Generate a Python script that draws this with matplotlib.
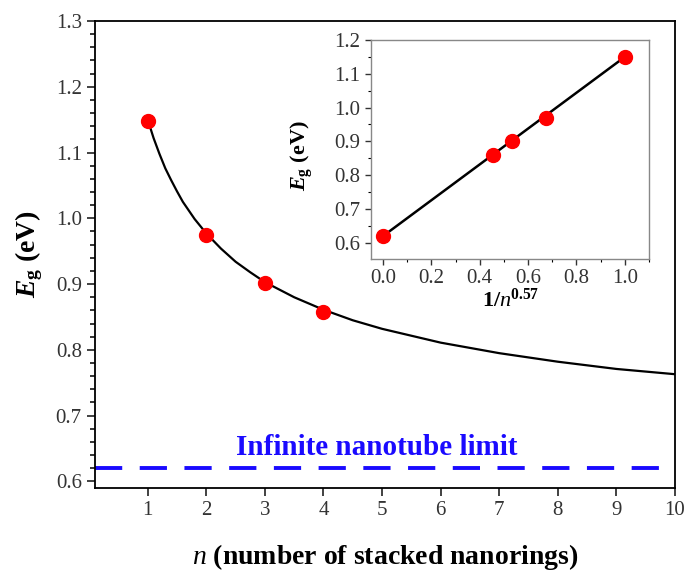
import matplotlib
matplotlib.use('Agg')
import matplotlib.pyplot as plt
from matplotlib.ticker import MultipleLocator

plt.rcParams['font.family'] = 'Liberation Serif'
plt.rcParams['mathtext.fontset'] = 'custom'
plt.rcParams['mathtext.rm'] = 'Liberation Serif:bold'
plt.rcParams['mathtext.it'] = 'Liberation Serif:italic:bold'
plt.rcParams['mathtext.bf'] = 'Liberation Serif:bold'
plt.rcParams['mathtext.sf'] = 'Liberation Serif:italic'

# band gap vs number of stacked nanorings
n_pts = [1, 2, 3, 4]
eg_pts = [1.148, 0.975, 0.901, 0.858]

# fitted curve
n_fit = [1, 1.1, 1.2, 1.3, 1.4, 1.5, 1.6, 1.8, 2, 2.25, 2.5, 2.75, 3, 3.5, 4,
         4.5, 5, 6, 7, 8, 9, 10]
eg_fit = [1.150, 1.122, 1.098, 1.076, 1.058, 1.041, 1.025, 0.999, 0.977, 0.954,
          0.934, 0.918, 0.903, 0.880, 0.861, 0.845, 0.832, 0.811, 0.795, 0.782,
          0.771, 0.763]

eg_inf = 0.62

# inset: Eg vs 1/n^0.57
inv_n = [0.0, 0.455, 0.533, 0.674, 1.0]
eg_inset = [0.62, 0.86, 0.90, 0.97, 1.15]
line_x = [0.0, 1.0]
line_y = [0.62, 1.15]

fig = plt.figure(figsize=(6.9, 5.71), dpi=100)
ax = fig.add_axes([95 / 690, 1 - 488 / 571, (675 - 95) / 690, (488 - 21) / 571])

ax.plot(n_fit, eg_fit, color='black', lw=1.6, zorder=2)
ax.plot(n_pts, eg_pts, 'o', color='red', ms=10, zorder=3)
ax.axhline(eg_inf, color='#1a0aff', lw=2.8, dashes=(7, 4.5))
ax.text(2.5, 0.652, 'Infinite nanotube limit', color='#1a0aff', fontsize=21,
        fontweight='bold', va='center')

ax.set_xlim(0.1, 10)
ax.set_ylim(0.59, 1.3)
ax.set_xticks(range(1, 11))
ax.yaxis.set_major_locator(MultipleLocator(0.1))
ax.yaxis.set_minor_locator(MultipleLocator(0.02))
ax.tick_params(axis='both', which='major', direction='out', length=6, width=1.3,
               labelsize=15, colors='#333333')
ax.tick_params(axis='y', which='minor', direction='out', length=3.5, width=1.1)
for s in ax.spines.values():
    s.set_linewidth(1.3)
ax.set_xlabel(r'$\mathsf{n}$ (number of stacked nanorings)', fontsize=20,
              fontweight='bold', labelpad=16)
ax.set_ylabel(r'$E_{\rm g}$ (eV)', fontsize=20, fontweight='bold', labelpad=8)

# inset
axi = fig.add_axes([371 / 690, 1 - 259 / 571, (649 - 371) / 690, (259 - 40) / 571])
axi.plot(line_x, line_y, color='black', lw=1.8, zorder=2)
axi.plot(inv_n, eg_inset, 'o', color='red', ms=10, zorder=3)
axi.set_xlim(-0.05, 1.1)
axi.set_ylim(0.552, 1.2)
axi.xaxis.set_major_locator(MultipleLocator(0.2))
axi.xaxis.set_minor_locator(MultipleLocator(0.1))
axi.yaxis.set_major_locator(MultipleLocator(0.1))
axi.yaxis.set_minor_locator(MultipleLocator(0.05))
axi.tick_params(which='major', direction='out', length=4, width=1, labelsize=15,
                colors='#333333')
axi.tick_params(which='minor', direction='out', length=2.5, width=0.8)
for s in axi.spines.values():
    s.set_color('#888888')
    s.set_linewidth(1)
axi.set_xlabel(r'1/$\mathsf{n}^{0.57}$', fontsize=16, fontweight='bold', labelpad=0)
axi.set_ylabel(r'$E_{\rm g}$ (eV)', fontsize=16, fontweight='bold', labelpad=0)
axi.yaxis.set_label_coords(-0.2, 0.47)

fig.savefig('out.png', dpi=100)
